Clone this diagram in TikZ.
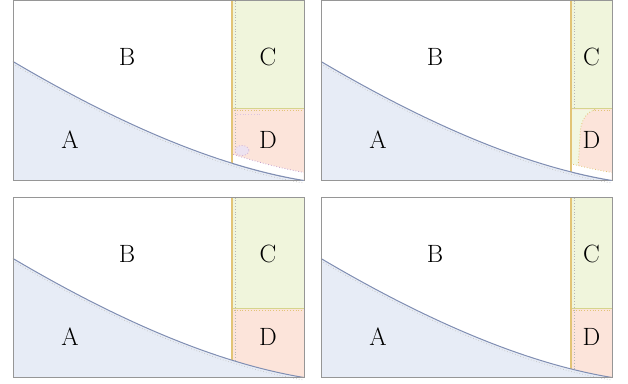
\documentclass[tikz,border=0pt]{standalone}
\usepackage{tikz}
\usetikzlibrary{calc}
\definecolor{bleuZone}{RGB}{231,236,246}
\definecolor{bleuCourbe}{RGB}{128,142,178}
\definecolor{vertZone}{RGB}{240,245,220}
\definecolor{roseZone}{RGB}{252,228,218}
\definecolor{orLigne}{RGB}{226,196,118}
\definecolor{jauneLigne}{RGB}{214,212,140}
\definecolor{grisCadre}{RGB}{150,150,150}
\definecolor{violetTache}{RGB}{196,158,204}

\begin{document}
\begin{tikzpicture}[x=1pt,y=-1pt,
  lettre/.style={font=\fontsize{25}{25}\selectfont,inner sep=0pt},
  cadre/.style={draw=grisCadre,line width=1pt},
  courbe/.style={draw=bleuCourbe,line width=1pt},
  pointille/.style={dotted,line width=0.8pt}]
  \useasboundingbox (0,0) rectangle (628,383);

  % Les quatre panneaux
  \foreach \px/\py/\vx/\sy/\k in {13/0.5/219/108/1,321/0.5/250/108/2,
                                  13/197.5/219/111/3,321/197.5/250/111/4}{
    \begin{scope}[shift={(\px,\py)}]
      % zones C et D
      \fill[vertZone] (\vx,0) rectangle (291,\sy);
      \fill[roseZone] (\vx,\sy) rectangle (291,180);
      \draw[jauneLigne,line width=0.9pt] (\vx,\sy) -- (291,\sy);
      \draw[orLigne,pointille] (\vx+2,\sy+2) -- (291,\sy+2);
      \draw[orLigne,line width=1.1pt] (\vx,0) -- (\vx,180);
      \draw[grisCadre!70,pointille] (\vx+3,0) -- (\vx+3,180);
      % zone A sous la courbe
      \fill[bleuZone] (0,61) .. controls (100,120) and (200,165) .. (291,180)
        -- (0,180) -- cycle;
      \draw[courbe] (0,61) .. controls (100,120) and (200,165) .. (291,180);
      \draw[grisCadre!50,pointille] (0,63.5) .. controls (100,122.5) and (200,167.5) .. (291,182.5);
      \draw[cadre] (0,0) rectangle (291,180);
      % lettres
      \node[lettre] (B\k) at (114,56) {B};
      \node[lettre] (A\k) at (57,139) {A};
      \node[lettre] (C\k) at ({(\vx+291)/2},56) {C};
      \node[lettre] (D\k) at ({(\vx+291)/2},139) {D};
    \end{scope}
  }

  % Panneau 1 : bande blanche et tache
  \begin{scope}[shift={(13,0.5)}]
    \begin{scope}
      \clip (220,109) rectangle (290.5,180);
      \fill[white] (0,51) .. controls (100,110) and (200,155) .. (291,172)
        -- (291,180) .. controls (200,165) and (100,120) .. (0,61) -- cycle;
      \draw[violetTache,pointille] (0,51) .. controls (100,110) and (200,155) .. (291,172);
      \draw[courbe] (0,61) .. controls (100,120) and (200,165) .. (291,180);
    \end{scope}
    \fill[violetTache!30,draw=violetTache!80,pointille] (229,150) ellipse (7 and 5);
    \draw[violetTache!60,pointille] (224,114) -- (248,114);
  \end{scope}

  % Panneau 2 : bord clair et bande blanche
  \begin{scope}[shift={(321,0.5)}]
    \fill[vertZone!85!white] (251,109) -- (274,109) .. controls (262,113) and (259,125) .. (259,136)
      -- (257,168) -- (251,170) -- cycle;
    \draw[orLigne,pointille] (274,109) .. controls (262,113) and (259,125) .. (259,136) -- (257,168);
    \begin{scope}
      \clip (251,109) rectangle (290.5,180);
      \fill[white] (0,51) .. controls (100,110) and (200,157) .. (291,172)
        -- (291,180) .. controls (200,165) and (100,120) .. (0,61) -- cycle;
      \draw[orLigne,pointille] (0,51) .. controls (100,110) and (200,157) .. (291,172);
      \draw[courbe] (0,61) .. controls (100,120) and (200,165) .. (291,180);
    \end{scope}
  \end{scope}
\end{tikzpicture}
\end{document}
